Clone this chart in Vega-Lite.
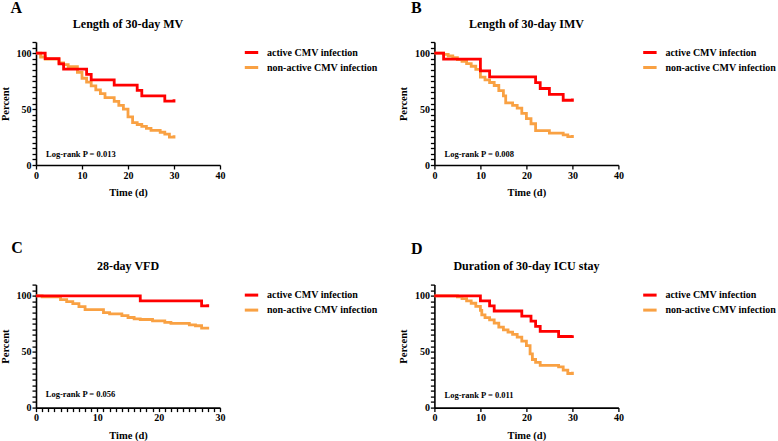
{
  "$schema": "https://vega.github.io/schema/vega-lite/v6.json",
  "background": "white",
  "padding": {"left": 0, "top": 0, "right": 0, "bottom": 0},
  "columns": 2,
  "spacing": {"row": 119.6, "column": 214.4},
  "bounds": "flush",
  "resolve": {"scale": {"color": "independent", "x": "independent", "y": "independent"}, "legend": {"color": "independent"}},
  "config": {
    "font": "Liberation Serif",
    "view": {"stroke": null},
    "axis": {"labelFont": "Liberation Serif", "labelFontWeight": "bold", "labelFontSize": 10, "labelColor": "black", "titleFont": "Liberation Serif", "titleFontWeight": "bold", "titleFontSize": 10.5, "titleColor": "black", "domainColor": "black", "domainWidth": 1.6, "tickColor": "black", "tickWidth": 1.3, "tickSize": 4, "grid": false, "labelPadding": 1, "labelFlush": false, "labelOverlap": false},
    "axisX": {"titlePadding": 7.5},
    "axisY": {"titlePadding": 5.5},
    "legend": {"orient": "right", "offset": 21, "padding": 2, "symbolType": "stroke", "symbolSize": 180, "symbolStrokeWidth": 3, "labelFont": "Liberation Serif", "labelFontWeight": "bold", "labelFontSize": 10, "labelColor": "black", "rowPadding": 0, "labelOffset": 7},
    "text": {"font": "Liberation Serif", "fontWeight": "bold", "color": "black"}
  },
  "datasets": {
    "A": [
      {"g": "non-active CMV infection", "t": 0, "v": 100}, {"g": "non-active CMV infection", "t": 1, "v": 96.6}, {"g": "non-active CMV infection", "t": 2, "v": 94.8}, {"g": "non-active CMV infection", "t": 5, "v": 91.4}, {"g": "non-active CMV infection", "t": 6, "v": 89.7}, {"g": "non-active CMV infection", "t": 7, "v": 87.9}, {"g": "non-active CMV infection", "t": 9, "v": 82.8}, {"g": "non-active CMV infection", "t": 10, "v": 77.6}, {"g": "non-active CMV infection", "t": 11, "v": 74.1}, {"g": "non-active CMV infection", "t": 12, "v": 70.7}, {"g": "non-active CMV infection", "t": 13, "v": 67.2}, {"g": "non-active CMV infection", "t": 14, "v": 63.8}, {"g": "non-active CMV infection", "t": 15, "v": 60.3}, {"g": "non-active CMV infection", "t": 17, "v": 56.9}, {"g": "non-active CMV infection", "t": 18, "v": 53.4}, {"g": "non-active CMV infection", "t": 19, "v": 50.0}, {"g": "non-active CMV infection", "t": 20, "v": 43.1}, {"g": "non-active CMV infection", "t": 21, "v": 37.9}, {"g": "non-active CMV infection", "t": 22, "v": 36.2}, {"g": "non-active CMV infection", "t": 23, "v": 34.5}, {"g": "non-active CMV infection", "t": 24, "v": 32.8}, {"g": "non-active CMV infection", "t": 25, "v": 31.0}, {"g": "non-active CMV infection", "t": 27, "v": 29.3}, {"g": "non-active CMV infection", "t": 28, "v": 27.6}, {"g": "non-active CMV infection", "t": 29, "v": 25.0}, {"g": "non-active CMV infection", "t": 30, "v": 26.5},
      {"g": "active CMV infection", "t": 0, "v": 100}, {"g": "active CMV infection", "t": 2, "v": 95.2}, {"g": "active CMV infection", "t": 5, "v": 90.5}, {"g": "active CMV infection", "t": 6, "v": 85.7}, {"g": "active CMV infection", "t": 11, "v": 81.0}, {"g": "active CMV infection", "t": 12, "v": 76.2}, {"g": "active CMV infection", "t": 17, "v": 71.4}, {"g": "active CMV infection", "t": 22, "v": 66.7}, {"g": "active CMV infection", "t": 23, "v": 61.9}, {"g": "active CMV infection", "t": 28, "v": 57.1}, {"g": "active CMV infection", "t": 30, "v": 58.7}
    ],
    "B": [
      {"g": "non-active CMV infection", "t": 0, "v": 100}, {"g": "non-active CMV infection", "t": 2, "v": 99}, {"g": "non-active CMV infection", "t": 3, "v": 97.5}, {"g": "non-active CMV infection", "t": 4, "v": 95.9}, {"g": "non-active CMV infection", "t": 5, "v": 94.3}, {"g": "non-active CMV infection", "t": 6, "v": 92.7}, {"g": "non-active CMV infection", "t": 7, "v": 90.6}, {"g": "non-active CMV infection", "t": 8, "v": 88.3}, {"g": "non-active CMV infection", "t": 9, "v": 85.5}, {"g": "non-active CMV infection", "t": 10, "v": 78.5}, {"g": "non-active CMV infection", "t": 11, "v": 76.2}, {"g": "non-active CMV infection", "t": 12, "v": 73.8}, {"g": "non-active CMV infection", "t": 13, "v": 71.1}, {"g": "non-active CMV infection", "t": 14, "v": 66.5}, {"g": "non-active CMV infection", "t": 15, "v": 61.8}, {"g": "non-active CMV infection", "t": 15.5, "v": 55.5}, {"g": "non-active CMV infection", "t": 17, "v": 53.3}, {"g": "non-active CMV infection", "t": 18, "v": 50.8}, {"g": "non-active CMV infection", "t": 19, "v": 46.2}, {"g": "non-active CMV infection", "t": 20, "v": 41.5}, {"g": "non-active CMV infection", "t": 21, "v": 36.9}, {"g": "non-active CMV infection", "t": 22, "v": 30.8}, {"g": "non-active CMV infection", "t": 25, "v": 28.5}, {"g": "non-active CMV infection", "t": 28, "v": 26.9}, {"g": "non-active CMV infection", "t": 29, "v": 25.4}, {"g": "non-active CMV infection", "t": 30, "v": 26.9},
      {"g": "active CMV infection", "t": 0, "v": 100}, {"g": "active CMV infection", "t": 2, "v": 94.7}, {"g": "active CMV infection", "t": 10, "v": 84.2}, {"g": "active CMV infection", "t": 12, "v": 78.9}, {"g": "active CMV infection", "t": 22, "v": 73.7}, {"g": "active CMV infection", "t": 23, "v": 68.4}, {"g": "active CMV infection", "t": 25, "v": 63.2}, {"g": "active CMV infection", "t": 28, "v": 57.9}, {"g": "active CMV infection", "t": 30, "v": 59.5}
    ],
    "C": [
      {"g": "non-active CMV infection", "t": 0, "v": 100}, {"g": "non-active CMV infection", "t": 1, "v": 99}, {"g": "non-active CMV infection", "t": 4, "v": 96.5}, {"g": "non-active CMV infection", "t": 5, "v": 94.7}, {"g": "non-active CMV infection", "t": 6, "v": 92.9}, {"g": "non-active CMV infection", "t": 7, "v": 90.3}, {"g": "non-active CMV infection", "t": 8, "v": 87.6}, {"g": "non-active CMV infection", "t": 11, "v": 85}, {"g": "non-active CMV infection", "t": 12, "v": 83.8}, {"g": "non-active CMV infection", "t": 14, "v": 82.3}, {"g": "non-active CMV infection", "t": 15, "v": 80.6}, {"g": "non-active CMV infection", "t": 16, "v": 79.3}, {"g": "non-active CMV infection", "t": 17, "v": 78.8}, {"g": "non-active CMV infection", "t": 19, "v": 77.5}, {"g": "non-active CMV infection", "t": 21, "v": 76.2}, {"g": "non-active CMV infection", "t": 22, "v": 75.3}, {"g": "non-active CMV infection", "t": 25, "v": 74}, {"g": "non-active CMV infection", "t": 26, "v": 73.2}, {"g": "non-active CMV infection", "t": 27, "v": 71}, {"g": "non-active CMV infection", "t": 28, "v": 72.2},
      {"g": "active CMV infection", "t": 0, "v": 100}, {"g": "active CMV infection", "t": 17, "v": 95.5}, {"g": "active CMV infection", "t": 27, "v": 90.9}, {"g": "active CMV infection", "t": 28, "v": 92.5}
    ],
    "D": [
      {"g": "non-active CMV infection", "t": 0, "v": 100}, {"g": "non-active CMV infection", "t": 5, "v": 99}, {"g": "non-active CMV infection", "t": 6, "v": 97.5}, {"g": "non-active CMV infection", "t": 7, "v": 95.5}, {"g": "non-active CMV infection", "t": 8, "v": 93.3}, {"g": "non-active CMV infection", "t": 9, "v": 90.5}, {"g": "non-active CMV infection", "t": 10, "v": 87}, {"g": "non-active CMV infection", "t": 10.3, "v": 82.9}, {"g": "non-active CMV infection", "t": 11, "v": 80.5}, {"g": "non-active CMV infection", "t": 12, "v": 78.5}, {"g": "non-active CMV infection", "t": 13, "v": 75.5}, {"g": "non-active CMV infection", "t": 14, "v": 72}, {"g": "non-active CMV infection", "t": 15, "v": 69.5}, {"g": "non-active CMV infection", "t": 16, "v": 67.5}, {"g": "non-active CMV infection", "t": 17, "v": 65.5}, {"g": "non-active CMV infection", "t": 18, "v": 63}, {"g": "non-active CMV infection", "t": 19, "v": 59.5}, {"g": "non-active CMV infection", "t": 20, "v": 55.5}, {"g": "non-active CMV infection", "t": 20.8, "v": 48}, {"g": "non-active CMV infection", "t": 21.3, "v": 43}, {"g": "non-active CMV infection", "t": 22, "v": 40.5}, {"g": "non-active CMV infection", "t": 23, "v": 37.8}, {"g": "non-active CMV infection", "t": 27, "v": 36.5}, {"g": "non-active CMV infection", "t": 28, "v": 33.5}, {"g": "non-active CMV infection", "t": 29, "v": 30.5}, {"g": "non-active CMV infection", "t": 30, "v": 32},
      {"g": "active CMV infection", "t": 0, "v": 100}, {"g": "active CMV infection", "t": 10, "v": 95.5}, {"g": "active CMV infection", "t": 12, "v": 90.9}, {"g": "active CMV infection", "t": 13, "v": 86.4}, {"g": "active CMV infection", "t": 19, "v": 81.8}, {"g": "active CMV infection", "t": 21, "v": 77.3}, {"g": "active CMV infection", "t": 22, "v": 72.7}, {"g": "active CMV infection", "t": 23, "v": 68.2}, {"g": "active CMV infection", "t": 27, "v": 63.6}, {"g": "active CMV infection", "t": 30, "v": 64.8}
    ]
  },
  "concat": [
    {
      "width": 184, "height": 123,
      "layer": [
        {
          "data": {"name": "A"},
          "mark": {"type": "line", "interpolate": "step-after", "strokeWidth": 2.8},
          "encoding": {
            "x": {"field": "t", "type": "quantitative", "scale": {"domain": [0, 40], "nice": false, "zero": false}, "axis": {"values": [0, 10, 20, 30, 40], "title": "Time (d)"}},
            "y": {"field": "v", "type": "quantitative", "scale": {"domain": [0, 110], "nice": false}, "axis": {"values": [0,5,10,15,20,25,30,35,40,45,50,55,60,65,70,75,80,85,90,95,100,105,110], "labelExpr": "datum.value % 50 === 0 ? datum.label : ''", "title": "Percent"}},
            "color": {"field": "g", "type": "nominal", "scale": {"domain": ["active CMV infection", "non-active CMV infection"], "range": ["#FF0000", "#F9A143"]}, "legend": {"title": null}}
          }
        },
        {
          "data": {"values": [{"label": "Log-rank P = 0.013"}]},
          "mark": {"type": "text", "align": "left", "baseline": "middle", "fontSize": 8.5},
          "encoding": {"x": {"datum": 2.2, "scale": {"domain": [0, 40]}, "axis": {"values": [0, 10, 20, 30, 40], "title": "Time (d)"}}, "y": {"datum": 9.8, "scale": {"domain": [0, 110]}, "axis": {"values": [0,5,10,15,20,25,30,35,40,45,50,55,60,65,70,75,80,85,90,95,100,105,110], "labelExpr": "datum.value % 50 === 0 ? datum.label : ''", "title": "Percent"}}, "text": {"field": "label"}}
        },
        {
          "data": {"values": [{"label": "Length of 30-day MV"}]},
          "mark": {"type": "text", "align": "center", "baseline": "middle", "fontSize": 12},
          "encoding": {"x": {"datum": 20, "scale": {"domain": [0, 40]}, "axis": {"values": [0, 10, 20, 30, 40], "title": "Time (d)"}}, "y": {"datum": 126.5, "scale": {"domain": [0, 110]}, "axis": {"values": [0,5,10,15,20,25,30,35,40,45,50,55,60,65,70,75,80,85,90,95,100,105,110], "labelExpr": "datum.value % 50 === 0 ? datum.label : ''", "title": "Percent"}}, "text": {"field": "label"}}
        },
        {
          "data": {"values": [{"label": "A"}]},
          "mark": {"type": "text", "align": "center", "baseline": "middle", "fontSize": 16},
          "encoding": {"x": {"datum": -4.3, "scale": {"domain": [0, 40]}, "axis": {"values": [0, 10, 20, 30, 40], "title": "Time (d)"}}, "y": {"datum": 140.2, "scale": {"domain": [0, 110]}, "axis": {"values": [0,5,10,15,20,25,30,35,40,45,50,55,60,65,70,75,80,85,90,95,100,105,110], "labelExpr": "datum.value % 50 === 0 ? datum.label : ''", "title": "Percent"}}, "text": {"field": "label"}}
        }
      ]
    },
    {
      "width": 184, "height": 123,
      "layer": [
        {
          "data": {"name": "B"},
          "mark": {"type": "line", "interpolate": "step-after", "strokeWidth": 2.8},
          "encoding": {
            "x": {"field": "t", "type": "quantitative", "scale": {"domain": [0, 40], "nice": false, "zero": false}, "axis": {"values": [0, 10, 20, 30, 40], "title": "Time (d)"}},
            "y": {"field": "v", "type": "quantitative", "scale": {"domain": [0, 110], "nice": false}, "axis": {"values": [0,5,10,15,20,25,30,35,40,45,50,55,60,65,70,75,80,85,90,95,100,105,110], "labelExpr": "datum.value % 50 === 0 ? datum.label : ''", "title": "Percent"}},
            "color": {"field": "g", "type": "nominal", "scale": {"domain": ["active CMV infection", "non-active CMV infection"], "range": ["#FF0000", "#F9A143"]}, "legend": {"title": null}}
          }
        },
        {
          "data": {"values": [{"label": "Log-rank P = 0.008"}]},
          "mark": {"type": "text", "align": "left", "baseline": "middle", "fontSize": 8.5},
          "encoding": {"x": {"datum": 2.2, "scale": {"domain": [0, 40]}, "axis": {"values": [0, 10, 20, 30, 40], "title": "Time (d)"}}, "y": {"datum": 9.8, "scale": {"domain": [0, 110]}, "axis": {"values": [0,5,10,15,20,25,30,35,40,45,50,55,60,65,70,75,80,85,90,95,100,105,110], "labelExpr": "datum.value % 50 === 0 ? datum.label : ''", "title": "Percent"}}, "text": {"field": "label"}}
        },
        {
          "data": {"values": [{"label": "Length of 30-day IMV"}]},
          "mark": {"type": "text", "align": "center", "baseline": "middle", "fontSize": 12},
          "encoding": {"x": {"datum": 20, "scale": {"domain": [0, 40]}, "axis": {"values": [0, 10, 20, 30, 40], "title": "Time (d)"}}, "y": {"datum": 126.5, "scale": {"domain": [0, 110]}, "axis": {"values": [0,5,10,15,20,25,30,35,40,45,50,55,60,65,70,75,80,85,90,95,100,105,110], "labelExpr": "datum.value % 50 === 0 ? datum.label : ''", "title": "Percent"}}, "text": {"field": "label"}}
        },
        {
          "data": {"values": [{"label": "B"}]},
          "mark": {"type": "text", "align": "center", "baseline": "middle", "fontSize": 16},
          "encoding": {"x": {"datum": -3.95, "scale": {"domain": [0, 40]}, "axis": {"values": [0, 10, 20, 30, 40], "title": "Time (d)"}}, "y": {"datum": 140.2, "scale": {"domain": [0, 110]}, "axis": {"values": [0,5,10,15,20,25,30,35,40,45,50,55,60,65,70,75,80,85,90,95,100,105,110], "labelExpr": "datum.value % 50 === 0 ? datum.label : ''", "title": "Percent"}}, "text": {"field": "label"}}
        }
      ]
    },
    {
      "width": 184, "height": 123,
      "layer": [
        {
          "data": {"name": "C"},
          "mark": {"type": "line", "interpolate": "step-after", "strokeWidth": 2.8},
          "encoding": {
            "x": {"field": "t", "type": "quantitative", "scale": {"domain": [0, 30], "nice": false, "zero": false}, "axis": {"values": [0,1,2,3,4,5,6,7,8,9,10,11,12,13,14,15,16,17,18,19,20,21,22,23,24,25,26,27,28,29,30], "labelExpr": "datum.value % 10 === 0 ? datum.label : ''", "title": "Time (d)"}},
            "y": {"field": "v", "type": "quantitative", "scale": {"domain": [0, 110], "nice": false}, "axis": {"values": [0,5,10,15,20,25,30,35,40,45,50,55,60,65,70,75,80,85,90,95,100,105,110], "labelExpr": "datum.value % 50 === 0 ? datum.label : ''", "title": "Percent"}},
            "color": {"field": "g", "type": "nominal", "scale": {"domain": ["active CMV infection", "non-active CMV infection"], "range": ["#FF0000", "#F9A143"]}, "legend": {"title": null}}
          }
        },
        {
          "data": {"values": [{"label": "Log-rank P = 0.056"}]},
          "mark": {"type": "text", "align": "left", "baseline": "middle", "fontSize": 8.5},
          "encoding": {"x": {"datum": 1.6, "scale": {"domain": [0, 30]}, "axis": {"values": [0,1,2,3,4,5,6,7,8,9,10,11,12,13,14,15,16,17,18,19,20,21,22,23,24,25,26,27,28,29,30], "labelExpr": "datum.value % 10 === 0 ? datum.label : ''", "title": "Time (d)"}}, "y": {"datum": 11.9, "scale": {"domain": [0, 110]}, "axis": {"values": [0,5,10,15,20,25,30,35,40,45,50,55,60,65,70,75,80,85,90,95,100,105,110], "labelExpr": "datum.value % 50 === 0 ? datum.label : ''", "title": "Percent"}}, "text": {"field": "label"}}
        },
        {
          "data": {"values": [{"label": "28-day VFD"}]},
          "mark": {"type": "text", "align": "center", "baseline": "middle", "fontSize": 12},
          "encoding": {"x": {"datum": 15, "scale": {"domain": [0, 30]}, "axis": {"values": [0,1,2,3,4,5,6,7,8,9,10,11,12,13,14,15,16,17,18,19,20,21,22,23,24,25,26,27,28,29,30], "labelExpr": "datum.value % 10 === 0 ? datum.label : ''", "title": "Time (d)"}}, "y": {"datum": 126.8, "scale": {"domain": [0, 110]}, "axis": {"values": [0,5,10,15,20,25,30,35,40,45,50,55,60,65,70,75,80,85,90,95,100,105,110], "labelExpr": "datum.value % 50 === 0 ? datum.label : ''", "title": "Percent"}}, "text": {"field": "label"}}
        },
        {
          "data": {"values": [{"label": "C"}]},
          "mark": {"type": "text", "align": "center", "baseline": "middle", "fontSize": 16},
          "encoding": {"x": {"datum": -3.1, "scale": {"domain": [0, 30]}, "axis": {"values": [0,1,2,3,4,5,6,7,8,9,10,11,12,13,14,15,16,17,18,19,20,21,22,23,24,25,26,27,28,29,30], "labelExpr": "datum.value % 10 === 0 ? datum.label : ''", "title": "Time (d)"}}, "y": {"datum": 142.5, "scale": {"domain": [0, 110]}, "axis": {"values": [0,5,10,15,20,25,30,35,40,45,50,55,60,65,70,75,80,85,90,95,100,105,110], "labelExpr": "datum.value % 50 === 0 ? datum.label : ''", "title": "Percent"}}, "text": {"field": "label"}}
        }
      ]
    },
    {
      "width": 184, "height": 123,
      "layer": [
        {
          "data": {"name": "D"},
          "mark": {"type": "line", "interpolate": "step-after", "strokeWidth": 2.8},
          "encoding": {
            "x": {"field": "t", "type": "quantitative", "scale": {"domain": [0, 40], "nice": false, "zero": false}, "axis": {"values": [0, 10, 20, 30, 40], "title": "Time (d)"}},
            "y": {"field": "v", "type": "quantitative", "scale": {"domain": [0, 110], "nice": false}, "axis": {"values": [0,5,10,15,20,25,30,35,40,45,50,55,60,65,70,75,80,85,90,95,100,105,110], "labelExpr": "datum.value % 50 === 0 ? datum.label : ''", "title": "Percent"}},
            "color": {"field": "g", "type": "nominal", "scale": {"domain": ["active CMV infection", "non-active CMV infection"], "range": ["#FF0000", "#F9A143"]}, "legend": {"title": null}}
          }
        },
        {
          "data": {"values": [{"label": "Log-rank P = 0.011"}]},
          "mark": {"type": "text", "align": "left", "baseline": "middle", "fontSize": 8.5},
          "encoding": {"x": {"datum": 2.2, "scale": {"domain": [0, 40]}, "axis": {"values": [0, 10, 20, 30, 40], "title": "Time (d)"}}, "y": {"datum": 11.3, "scale": {"domain": [0, 110]}, "axis": {"values": [0,5,10,15,20,25,30,35,40,45,50,55,60,65,70,75,80,85,90,95,100,105,110], "labelExpr": "datum.value % 50 === 0 ? datum.label : ''", "title": "Percent"}}, "text": {"field": "label"}}
        },
        {
          "data": {"values": [{"label": "Duration of 30-day ICU stay"}]},
          "mark": {"type": "text", "align": "center", "baseline": "middle", "fontSize": 12},
          "encoding": {"x": {"datum": 20, "scale": {"domain": [0, 40]}, "axis": {"values": [0, 10, 20, 30, 40], "title": "Time (d)"}}, "y": {"datum": 126.8, "scale": {"domain": [0, 110]}, "axis": {"values": [0,5,10,15,20,25,30,35,40,45,50,55,60,65,70,75,80,85,90,95,100,105,110], "labelExpr": "datum.value % 50 === 0 ? datum.label : ''", "title": "Percent"}}, "text": {"field": "label"}}
        },
        {
          "data": {"values": [{"label": "D"}]},
          "mark": {"type": "text", "align": "center", "baseline": "middle", "fontSize": 16},
          "encoding": {"x": {"datum": -3.84, "scale": {"domain": [0, 40]}, "axis": {"values": [0, 10, 20, 30, 40], "title": "Time (d)"}}, "y": {"datum": 141.6, "scale": {"domain": [0, 110]}, "axis": {"values": [0,5,10,15,20,25,30,35,40,45,50,55,60,65,70,75,80,85,90,95,100,105,110], "labelExpr": "datum.value % 50 === 0 ? datum.label : ''", "title": "Percent"}}, "text": {"field": "label"}}
        }
      ]
    }
  ]
}
